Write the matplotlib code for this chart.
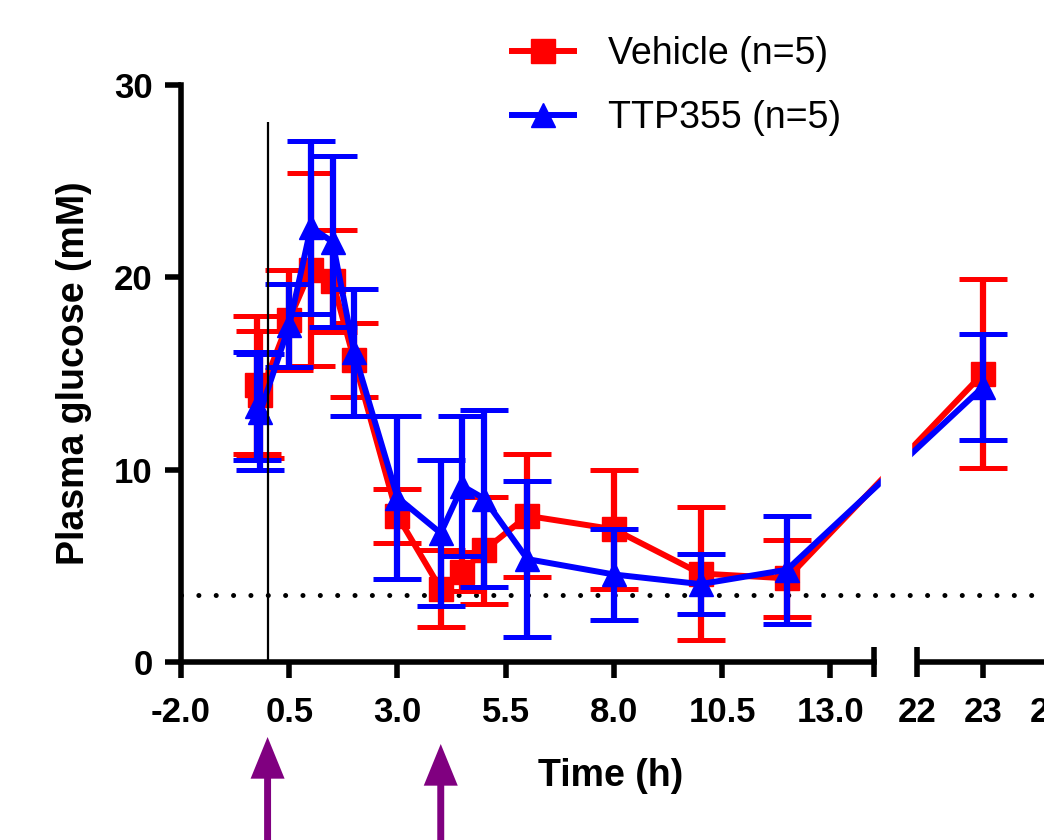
import matplotlib
matplotlib.use('Agg')
import matplotlib.pyplot as plt

plt.rcParams['font.family'] = ['Liberation Sans', 'DejaVu Sans']
plt.rcParams['font.weight'] = 'bold'

# время (ч) и глюкоза (mM), среднее +- SEM
times = [-0.25, -0.17, 0.5, 1, 1.5, 2, 3, 4, 4.5, 5, 6, 8, 10, 12, 23]
veh_mean = [14.4, 13.9, 17.8, 20.4, 19.8, 15.7, 7.6, 3.8, 4.7, 5.8, 7.6, 6.9, 4.6, 4.35, 15.0]
veh_sem = [3.6, 3.3, 2.6, 5.0, 2.65, 1.9, 1.4, 2.0, 1.0, 2.8, 3.2, 3.1, 3.45, 2.0, 4.9]
ttp_mean = [13.3, 13.0, 17.5, 22.6, 21.85, 16.1, 8.55, 6.7, 9.15, 8.5, 5.35, 4.55, 4.05, 4.8, 14.3]
ttp_sem = [2.8, 3.0, 2.15, 4.5, 4.45, 3.3, 4.25, 3.8, 3.65, 4.6, 4.05, 2.35, 1.55, 2.8, 2.75]

hypo_level = 3.5      # пунктирная линия
dose_times = [0, 4]   # стрелки
xticks_left = [-2.0, 0.5, 3.0, 5.5, 8.0, 10.5, 13.0]
xticks_right = [22, 23, 24]
yticks = [0, 10, 20, 30]


def to_u(t):
    # разрыв оси: -2..14, потом 22..24 (растянуто)
    if t <= 14:
        return t
    return 15 + (t - 22) * 1.525


fig = plt.figure(figsize=(10.44, 8.4), dpi=100)
ax = fig.add_axes([181 / 1044, 178 / 840, 868 / 1044, 577 / 840])

u = [to_u(t) for t in times]

ax.errorbar(u, veh_mean, yerr=veh_sem, fmt='none', ecolor='red', elinewidth=4.5,
            capsize=17, capthick=3.6, zorder=2)
ax.plot(u, veh_mean, color='red', lw=4.3, marker='s', ms=17, label='Vehicle (n=5)', zorder=3)
ax.errorbar(u, ttp_mean, yerr=ttp_sem, fmt='none', ecolor='blue', elinewidth=4.5,
            capsize=17, capthick=3.6, zorder=4)
ax.plot(u, ttp_mean, color='blue', lw=4.3, marker='^', ms=17, label='TTP355 (n=5)', zorder=5)

# белый промежуток в линиях на месте разрыва
ax.axvspan(14.17, 14.86, ymin=0.2, ymax=1, color='white', zorder=6)

ax.axhline(hypo_level, color='black', lw=3.6, linestyle=(0, (0.01, 3.46)),
           dash_capstyle='round', zorder=1)
ax.vlines(0, 0, 28.1, color='black', lw=1.6, zorder=8)

ax.set_xlim(-2, to_u(24))
ax.set_ylim(0, 30)

ax.spines['top'].set_visible(False)
ax.spines['right'].set_visible(False)
ax.spines['left'].set_linewidth(4)
ax.spines['bottom'].set_linewidth(4)
ax.spines['bottom'].set_bounds(-2, 14)
ax.plot([to_u(22), to_u(24)], [0, 0], color='black', lw=4, solid_capstyle='butt',
        clip_on=False, zorder=9)

ax.set_xticks([to_u(t) for t in xticks_left + xticks_right[1:]])
ax.set_xticklabels([f'{t:.1f}' for t in xticks_left] + [str(t) for t in xticks_right[1:]])
ax.set_xticks([14, to_u(22)], minor=True)
ax.set_xticklabels(['', str(xticks_right[0])], minor=True)
ax.tick_params(axis='x', which='major', direction='out', length=11.5, width=4, pad=13, labelsize=25)
ax.tick_params(axis='x', which='minor', direction='inout', length=21.6, width=4, pad=13.7, labelsize=25)
ax.set_yticks(yticks)
ax.tick_params(axis='y', direction='out', length=11.5, width=4, pad=9, labelsize=25)

ax.set_ylabel('Plasma glucose (mM)', fontsize=27, fontweight='bold', va='center')
ax.yaxis.set_label_coords(-0.123, 0.5)
ax.set_xlabel('Time (h)', fontsize=27, fontweight='bold', va='center')
ax.xaxis.set_label_coords(0.495, -0.1976)

ax.legend(loc='upper left', bbox_to_anchor=(512 / 1044, 1 - 36 / 840), bbox_transform=fig.transFigure,
          frameon=False, prop={'size': 27, 'weight': 'normal'}, handlelength=1.65,
          handletextpad=0.9, labelspacing=0.75, borderpad=0, borderaxespad=0)

# стрелки введения под осью
for t, tip in zip(dose_times, [737, 744]):
    ax.annotate('', xy=(to_u(t), 840 - tip), xycoords=('data', 'figure pixels'),
                xytext=(to_u(t), -20), textcoords=('data', 'figure pixels'),
                arrowprops=dict(facecolor='purple', edgecolor='none', width=5,
                                headwidth=24.5, headlength=30, shrink=0),
                annotation_clip=False)

fig.savefig('out.png', dpi=100)
